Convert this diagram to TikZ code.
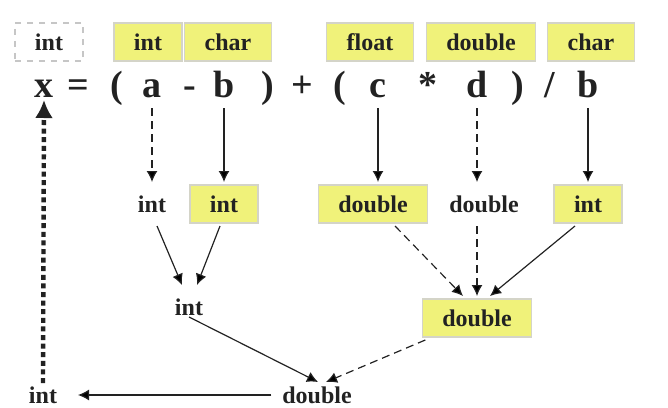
\documentclass[tikz,border=0pt]{standalone}
\usepackage{fontspec}
\setmainfont{Liberation Serif}
\usetikzlibrary{arrows.meta}
\definecolor{boxyellow}{HTML}{F0F27A}
\definecolor{boxline}{HTML}{D4D4C8}
\definecolor{ink}{HTML}{222222}

\begin{document}
\begin{tikzpicture}[
  x=0.5pt,y=-0.5pt,
  every node/.style={font=\bfseries\fontsize{12}{14}\selectfont,text=ink,outer sep=1.5pt},
  typebox/.style={fill=boxyellow,draw=boxline,line width=0.6pt,inner xsep=10pt,minimum height=19pt},
  hintbox/.style={draw=gray!45,dashed,line width=0.6pt,inner xsep=10pt,minimum height=19pt},
  plain/.style={inner sep=4pt,minimum height=19pt},
  sym/.style={font=\bfseries\fontsize{19}{21}\selectfont,text height=13pt,text depth=4pt,inner sep=0pt},
  guess/.style={dash pattern=on 4pt off 2.5pt},
  ]
  \useasboundingbox (0,0) rectangle (668,407);
  % declared types
  \node[hintbox](tx) at (49,42) {int};
  \node[typebox](ta) at (148,42) {int};
  \node[typebox](tb) at (228,42) {char};
  \node[typebox](tc) at (370,42) {float};
  \node[typebox](td) at (481,42) {double};
  \node[typebox](tb2) at (591,42) {char};
  % the expression
  \node[sym](vx) at (44,88) {x};
  \node[sym](veq) at (78,88) {=};
  \node[sym](vlp) at (117,88) {(};
  \node[sym](va) at (152,88) {a};
  \node[sym](vminus) at (190,88) {-};
  \node[sym](vb) at (224,88) {b};
  \node[sym](vrp) at (268,88) {)};
  \node[sym](vplus) at (302,88) {+};
  \node[sym](vlp2) at (340,88) {(};
  \node[sym](vc) at (378,88) {c};
  \node[sym](vstar) at (428,88) {*};
  \node[sym](vd) at (477,88) {d};
  \node[sym](vrp2) at (518,88) {)};
  \node[sym](vslash) at (550,88) {/};
  \node[sym](vb2) at (588,88) {b};
  % converted operands
  \node[plain](ia) at (152,204) {int};
  \node[typebox](ib) at (224,204) {int};
  \node[typebox](ic) at (373,204) {double};
  \node[plain](id) at (484,204) {double};
  \node[typebox](ib2) at (588,204) {int};
  % partial results
  \node[plain](sab) at (189,307) {int};
  \node[typebox](scd) at (477,318) {double};
  \node[plain](sum) at (317,395) {double};
  \node[plain](res) at (43,395) {int};
  \path[draw=ink,semithick,>={Latex[length=5.5pt,width=5.5pt]}]
  (va) edge[->,guess] (ia)
  (vb) edge[->] (ib)
  (vc) edge[->] ([xshift=2.5pt]ic.north)
  (vd) edge[->,guess] ([xshift=-3.5pt]id.north)
  (vb2) edge[->] (ib2)
  ([xshift=2.5pt]ia.south) edge[->] ([xshift=-3.5pt]sab.north)
  ([xshift=-2pt]ib.south) edge[->] ([xshift=4pt]sab.north)
  ([xshift=11pt]ic.south) edge[->,guess] ([xshift=-7pt]scd.north)
  ([xshift=-3.5pt]id.south) edge[->,guess] (scd.north)
  ([xshift=-6.5pt]ib2.south) edge[->] ([xshift=6.5pt]scd.north)
  ([yshift=-5pt]sab.center) edge[->] ([xshift=0.5pt,yshift=6.5pt]sum.center)
  ([xshift=3pt]scd.south west) edge[->,guess] ([xshift=4.5pt,yshift=6.5pt]sum.center)
  (sum) edge[->,shorten >=5pt] (res);
  \draw[ink,line width=2.2pt,dash pattern=on 2.5pt off 1.8pt,-{Latex[length=9pt,width=9pt]}]
  ([yshift=6pt]res.center) -- ([yshift=-1.5pt]vx.base);
\end{tikzpicture}
\end{document}
